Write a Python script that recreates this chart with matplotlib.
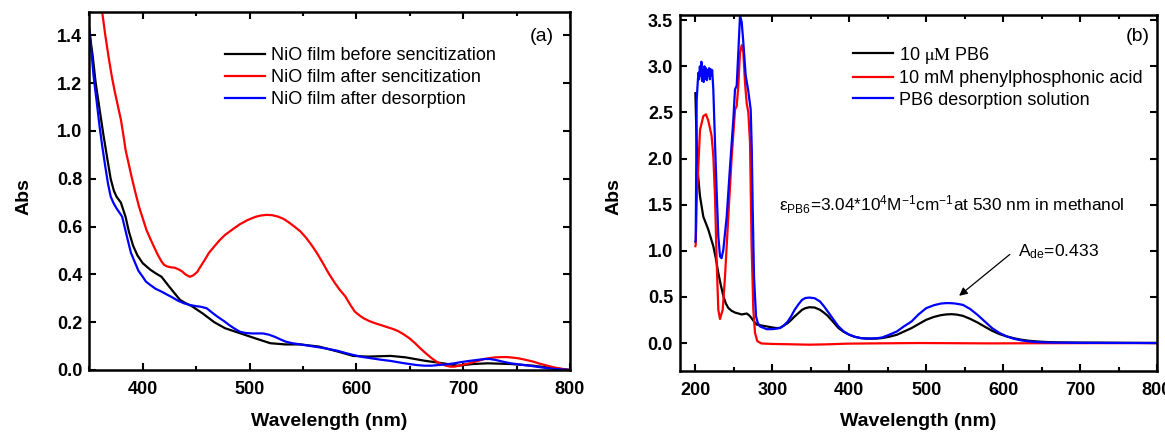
import matplotlib
matplotlib.use("Agg")
import matplotlib.pyplot as plt
from matplotlib.ticker import MultipleLocator, FormatStrFormatter

plt.rcParams['font.family'] = ['Liberation Sans', 'DejaVu Sans']
plt.rcParams['mathtext.fontset'] = 'custom'
plt.rcParams['mathtext.rm'] = 'Liberation Sans'
plt.rcParams['mathtext.it'] = 'Liberation Sans:italic'
plt.rcParams['mathtext.bf'] = 'Liberation Sans:bold'
plt.rcParams['mathtext.default'] = 'regular'

# ---------------- (a) NiO film absorbance ----------------
wl_before = [350, 353, 356, 360, 363, 367, 370, 373, 375.4, 379.6, 384, 387, 391, 395, 400, 407,
             412, 417.6, 424.6, 430, 435, 440, 445.7, 456, 467, 477, 491, 505, 519.5, 533.6,
             547.6, 565, 582.8, 597, 611, 632, 646, 663.6, 681, 695, 709, 723, 744.5, 765.6, 783, 800]
abs_before = [1.42, 1.32, 1.20, 1.08, 0.99, 0.88, 0.80, 0.75, 0.726, 0.70, 0.64, 0.58, 0.52, 0.48, 0.447, 0.42,
              0.405, 0.39, 0.35, 0.32, 0.293, 0.28, 0.268, 0.237, 0.20, 0.175, 0.154, 0.133, 0.112, 0.107,
              0.107, 0.098, 0.077, 0.059, 0.056, 0.059, 0.053, 0.039, 0.028, 0.018, 0.025, 0.028, 0.025, 0.018, 0.008, 0.0]

wl_after = [358, 362, 365, 368.4, 371, 373.6, 377, 379.6, 382, 384, 387, 389.5, 393, 396.5, 400, 403.5,
            407, 410.5, 414, 417.6, 420, 423, 426, 430, 434, 437, 440, 444, 447, 451, 454, 458, 462,
            466.8, 472, 477, 484, 491, 498, 505, 510, 515.7, 521, 526.5, 532, 537, 542, 547.6, 553,
            558, 563, 568.7, 574, 579, 584, 589.8, 594, 598.6, 603, 607, 612, 618, 623, 628.5, 634,
            639, 644, 649.6, 655, 660, 665, 670.6, 675, 679.4, 684, 688, 692, 695, 700, 705.8, 713,
            720, 725, 730.4, 736, 741, 746, 751.5, 758, 765.6, 772, 779.6, 785, 790, 795, 800]
abs_after = [1.62, 1.50, 1.40, 1.30, 1.23, 1.17, 1.10, 1.047, 0.98, 0.92, 0.86, 0.81, 0.745, 0.684, 0.635, 0.586,
             0.55, 0.516, 0.483, 0.454, 0.44, 0.433, 0.43, 0.428, 0.42, 0.412, 0.40, 0.39, 0.395, 0.41, 0.432, 0.46, 0.49,
             0.516, 0.543, 0.565, 0.588, 0.61, 0.627, 0.64, 0.646, 0.649, 0.648, 0.642, 0.632, 0.617, 0.60, 0.58, 0.553,
             0.523, 0.49, 0.447, 0.405, 0.37, 0.338, 0.307, 0.275, 0.244, 0.228, 0.216, 0.205, 0.195, 0.188, 0.18, 0.172,
             0.163, 0.15, 0.133, 0.112, 0.09, 0.07, 0.049, 0.035, 0.025, 0.018, 0.014, 0.014, 0.017, 0.022, 0.028, 0.037,
             0.046, 0.05, 0.053, 0.054, 0.054, 0.052, 0.049, 0.043, 0.035, 0.026, 0.017, 0.011, 0.007, 0.003, 0.0]

wl_desorb = [350, 352, 354, 357, 359.6, 362, 365, 367.5, 370, 372.5, 375.4, 378, 380.7, 383, 386, 389,
             393, 396, 400, 403, 407, 412, 417.6, 423, 428, 433, 438.7, 444, 449, 455, 460, 465, 470,
             476, 481, 486, 491, 496, 502, 507, 512.5, 518, 523, 528, 533.6, 540, 547.6, 556, 565, 574,
             582.8, 590, 597, 605, 614, 623, 632, 641, 649.6, 656, 663.6, 670, 677.7, 685, 691.7, 698,
             705.8, 713, 720, 725, 730.4, 737, 744.5, 753, 762, 770, 779.6, 790, 800]
abs_desorb = [1.43, 1.33, 1.23, 1.12, 1.02, 0.94, 0.85, 0.78, 0.726, 0.70, 0.677, 0.66, 0.642, 0.60, 0.544, 0.49,
              0.447, 0.415, 0.39, 0.37, 0.356, 0.34, 0.328, 0.315, 0.303, 0.29, 0.279, 0.272, 0.268, 0.264, 0.258, 0.24, 0.223,
              0.205, 0.188, 0.173, 0.16, 0.155, 0.153, 0.153, 0.153, 0.148, 0.14, 0.13, 0.119, 0.112, 0.107, 0.101, 0.095, 0.088,
              0.08, 0.071, 0.063, 0.055, 0.049, 0.043, 0.038, 0.031, 0.025, 0.021, 0.018, 0.018, 0.021, 0.024, 0.028, 0.033,
              0.038, 0.042, 0.046, 0.046, 0.042, 0.035, 0.028, 0.023, 0.018, 0.013, 0.007, 0.003, 0.0]

labels_a = ['NiO film before sencitization', 'NiO film after sencitization', 'NiO film after desorption']

# ---------------- (b) solution spectra ----------------
wl_pb6 = [200, 200.8, 202.5, 206, 210.3, 216.8, 223.3, 226.5, 229.8, 233, 236.3, 239.5, 242.8, 247, 251.5,
          256, 260, 263.5, 266.7, 270, 273, 276.5, 279.7, 286, 292.7, 300.6, 305.7, 310, 315, 320, 324.5,
          329, 334, 338.6, 343, 348, 355, 362, 367, 372, 379, 386, 393, 400, 407, 414.6, 421.5, 428.9,
          436, 443, 452, 462, 471, 481, 490, 500, 510, 519, 526, 533, 540, 547.6, 557, 566.6, 576, 585.6,
          595, 604.6, 614, 623.6, 633, 642.5, 656, 671, 700, 728, 765, 800]
abs_pb6 = [2.71, 2.44, 1.91, 1.59, 1.37, 1.23, 1.05, 0.92, 0.76, 0.63, 0.51, 0.43, 0.38, 0.35, 0.33,
           0.32, 0.31, 0.315, 0.32, 0.30, 0.27, 0.23, 0.20, 0.19, 0.18, 0.168, 0.162, 0.165, 0.19, 0.216, 0.25,
           0.288, 0.325, 0.36, 0.378, 0.388, 0.385, 0.36, 0.33, 0.295, 0.23, 0.162, 0.12, 0.09, 0.068, 0.054, 0.048, 0.047,
           0.049, 0.054, 0.068, 0.09, 0.124, 0.162, 0.205, 0.252, 0.283, 0.302, 0.31, 0.313, 0.308, 0.295, 0.263, 0.223, 0.178, 0.133,
           0.098, 0.072, 0.052, 0.036, 0.025, 0.018, 0.011, 0.007, 0.005, 0.004, 0.002, 0.0]

wl_acid = [200, 200.4, 202, 203.8, 206, 210.3, 213.8, 216.8, 221, 223.3, 225.5, 227.7, 229.8, 232,
           235.5, 238.5, 242.8, 247, 251.5, 253.7, 255.8, 258, 260.2, 262.3, 264.5, 266.7, 268.8, 271,
           273, 275.3, 277.5, 280.5, 286, 300.6, 320, 348, 372, 395.6, 430, 490.6, 540, 585.6, 650, 720, 800]
abs_acid = [1.05, 1.065, 1.60, 1.91, 2.31, 2.46, 2.48, 2.41, 2.25, 2.03, 1.59, 0.87, 0.36, 0.26,
            0.36, 0.72, 1.37, 1.99, 2.53, 2.57, 2.79, 3.15, 3.23, 3.15, 2.82, 2.60, 2.50, 2.17,
            1.08, 0.36, 0.11, 0.02, -0.005, -0.01, -0.013, -0.018, -0.014, -0.007, -0.004, 0.0, -0.002, -0.004, -0.002, -0.001, 0.0]

wl_sol = [200, 200.4, 201.7, 203.8, 204.8, 205.8, 206.8, 207.8, 208.8, 209.8, 210.8, 211.8, 212.8, 213.8,
          214.8, 215.8, 216.8, 217.8, 218.8, 219.8, 220.8, 221.8, 223.3, 225.5, 227.7, 229.8, 232, 234,
          236.3, 240.7, 245, 249.3, 251.5, 253.7, 255.8, 258, 260.2, 262.3, 265.4, 268.8, 271.9, 273.3,
          274.5, 276.2, 278.8, 281, 284, 292.7, 300.6, 310, 315, 320,
          324.5, 329, 334, 338.6, 343, 348, 355, 362, 367, 372, 379, 386, 393, 400, 407, 414.6, 421.5, 428.9,
          436, 443, 452, 462, 471, 481, 490, 500, 510, 519, 526, 530, 536, 541, 547.6, 557, 566.6, 576, 585.6,
          595, 604.6, 614, 623.6, 633, 642.5, 656, 671, 700, 740, 800]
abs_sol = [1.10, 1.12, 2.64, 2.93, 2.86, 3.00, 2.90, 3.05, 2.84, 2.96, 2.83, 3.00, 2.87, 2.98, 2.85, 2.96,
           2.90, 2.98, 2.86, 2.97, 2.90, 2.96, 2.75, 2.17, 1.63, 1.16, 0.94, 0.92,
           1.01, 1.37, 1.91, 2.42, 2.75, 2.79, 3.15, 3.55, 3.48, 3.26, 2.90, 2.73, 2.53, 2.10,
           1.45, 0.72, 0.29, 0.22, 0.18, 0.15, 0.151, 0.162, 0.19, 0.234,
           0.29, 0.36, 0.42, 0.468, 0.488, 0.493, 0.486, 0.45, 0.40, 0.342, 0.26, 0.18, 0.125, 0.09, 0.068, 0.054, 0.05, 0.05,
           0.052, 0.061, 0.09, 0.126, 0.18, 0.234, 0.31, 0.378, 0.41, 0.428, 0.433, 0.433, 0.43, 0.424, 0.414,
           0.37, 0.306, 0.235, 0.162, 0.11, 0.072, 0.046, 0.029, 0.018, 0.011, 0.006, 0.004, 0.002, 0.001, 0.0]

labels_b = [r'10 $\mathrm{\mu M}$ PB6', '10 mM phenylphosphonic acid', 'PB6 desorption solution']
peak_wl, peak_abs = 530, 0.433

COLORS = ['#000000', '#ff0000', '#0000ff']
LW = 1.6

fig = plt.figure(figsize=(11.65, 4.32), dpi=100)
W, H = 1165, 432
ax_a = fig.add_axes([89.3 / W, 1 - 370 / H, (570 - 89.3) / W, (370 - 11.5) / H])
ax_b = fig.add_axes([680 / W, 1 - 370.7 / H, (1157 - 680) / W, (370.7 - 14.7) / H])


def style_axes(ax):
    for s in ax.spines.values():
        s.set_linewidth(1.8)
    ax.tick_params(which='both', direction='in', top=True, right=True, width=1.5)
    ax.tick_params(which='major', length=5)
    ax.tick_params(which='minor', length=3)
    ax.tick_params(axis='x', which='major', pad=8, labelsize=13)
    ax.tick_params(axis='y', which='major', pad=5, labelsize=13)
    for lab in ax.get_xticklabels() + ax.get_yticklabels():
        lab.set_fontweight('bold')


# panel (a)
for x, y, c, lab in zip([wl_before, wl_after, wl_desorb], [abs_before, abs_after, abs_desorb], COLORS, labels_a):
    ax_a.plot(x, y, color=c, lw=LW, label=lab)
ax_a.set_xlim(350, 800)
ax_a.set_ylim(0, 1.5)
ax_a.set_xticks([400, 500, 600, 700, 800])
ax_a.xaxis.set_minor_locator(MultipleLocator(50))
ax_a.yaxis.set_major_locator(MultipleLocator(0.2))
ax_a.yaxis.set_major_formatter(FormatStrFormatter('%.1f'))
style_axes(ax_a)
ax_a.set_xlabel('Wavelength (nm)', fontsize=14, fontweight='bold')
ax_a.set_ylabel('Abs', fontsize=14, fontweight='bold')
ax_a.xaxis.set_label_coords(0.5, -0.119)
ax_a.yaxis.set_label_coords(-0.119, 0.483)
ax_a.legend(loc='upper left', bbox_to_anchor=(0.282, 0.90), frameon=False, fontsize=13,
            handlelength=2.2, handletextpad=0.35, labelspacing=0.27, borderpad=0, borderaxespad=0)
ax_a.text(773.5, 1.394, '(a)', fontsize=14, ha='center', va='center')

# panel (b)
for x, y, c, lab in zip([wl_pb6, wl_acid, wl_sol], [abs_pb6, abs_acid, abs_sol], COLORS, labels_b):
    ax_b.plot(x, y, color=c, lw=LW, label=lab)
ax_b.set_xlim(180, 800)
ax_b.set_ylim(-0.3, 3.56)
ax_b.xaxis.set_major_locator(MultipleLocator(100))
ax_b.xaxis.set_minor_locator(MultipleLocator(50))
ax_b.yaxis.set_major_locator(MultipleLocator(0.5))
ax_b.yaxis.set_major_formatter(FormatStrFormatter('%.1f'))
style_axes(ax_b)
ax_b.set_xlabel('Wavelength (nm)', fontsize=14, fontweight='bold')
ax_b.set_ylabel('Abs', fontsize=14, fontweight='bold')
ax_b.xaxis.set_label_coords(0.5, -0.118)
ax_b.yaxis.set_label_coords(-0.12, 0.488)
leg_b = ax_b.legend(loc='upper left', bbox_to_anchor=(0.363, 0.916), frameon=False, fontsize=13,
                    handlelength=2.2, handletextpad=0.35, labelspacing=0.25, borderpad=0, borderaxespad=0)
leg_b.get_texts()[0].set_math_fontfamily('stix')
ax_b.text(0.985, 0.94, '(b)', transform=ax_b.transAxes, fontsize=14, ha='right', va='center')

ax_b.text(308.7, 1.5, r'$\varepsilon_{PB6}$=3.04*10$^4$M$^{-1}$cm$^{-1}$at 530 nm in methanol',
          fontsize=12.4, ha='left', va='center')
ax_b.annotate('', xy=(peak_wl + 10, peak_abs + 0.06), xytext=(611.5, 0.98),
              arrowprops=dict(arrowstyle='-|>', color='black', lw=0.9, mutation_scale=12))
ax_b.text(619.3, 0.99, r'A$_{de}$=' + f'{peak_abs:.3f}', fontsize=12.6, ha='left', va='center')

fig.savefig('out.png', dpi=100)
